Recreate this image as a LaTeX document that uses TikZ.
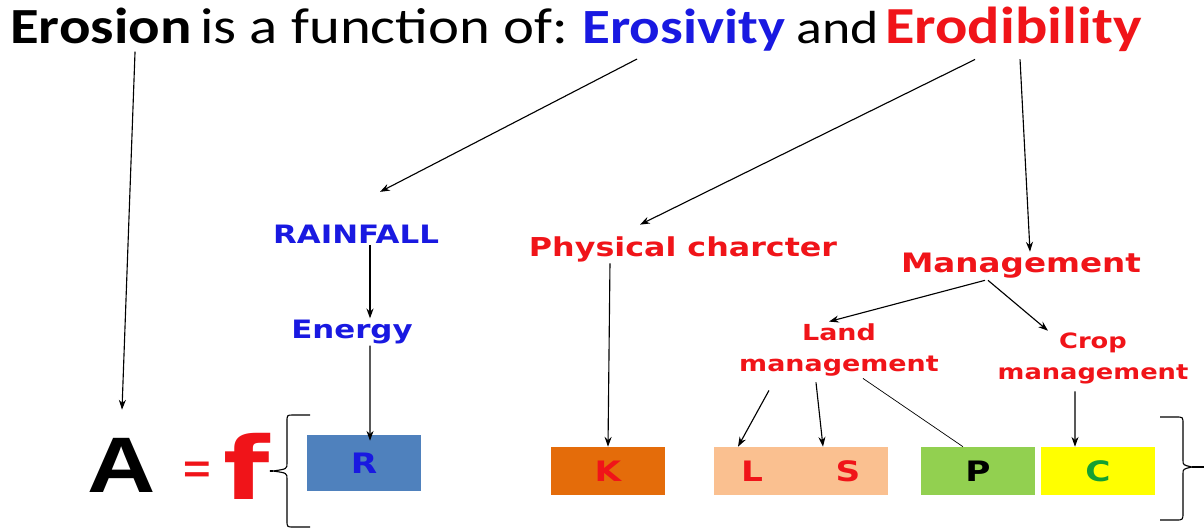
\documentclass[tikz,border=0pt]{standalone}
\usepackage{fontspec}
\setmainfont[FakeStretch=1.16]{Carlito}
\newfontfamily\lblfont[FakeStretch=1.22]{DejaVu Sans}
\newfontfamily\bigfont[FakeStretch=1.2]{Liberation Sans}
\usetikzlibrary{positioning,arrows.meta}
\definecolor{erosblue}{RGB}{25,25,225}
\definecolor{erodred}{RGB}{240,20,25}
\definecolor{rbox}{RGB}{79,129,189}
\definecolor{kbox}{RGB}{228,108,10}
\definecolor{lsbox}{RGB}{250,192,144}
\definecolor{pbox}{RGB}{146,208,80}
\definecolor{cbox}{RGB}{255,255,0}
\definecolor{cgreen}{RGB}{20,160,50}
\tikzset{
  titleword/.style={anchor=base west, inner sep=0pt, font=\fontsize{36}{40}\selectfont},
  lbl/.style={inner sep=1pt, align=center, font=\lblfont\bfseries\fontsize{18}{22}\selectfont},
  factor/.style={minimum width=2.85cm, minimum height=1.2cm, inner sep=0pt,
    font=\lblfont\bfseries\fontsize{20}{22}\selectfont},
  link/.style={->, >={Stealth[length=7pt,width=5pt]}, line width=0.8pt},
}
\begin{document}
\begin{tikzpicture}[x=0.025cm, y=-0.025cm]
    \useasboundingbox (0,0) rectangle (1204,527);

    % Title line
    \node[titleword] (erosion) at (10,43) {\bfseries Erosion};
    \node[titleword] (isafn) at (200,43) {is a function of:};
    \node[titleword, text=erosblue, font=\fontsize{35}{40}\selectfont] (erosivity) at (582,43) {\bfseries Erosivity};
    \node[titleword, font=\fontsize{33}{40}\selectfont] (andw) at (796,43) {and};
    \node[titleword, text=erodred, font=\fontsize{37}{40}\selectfont] (erodibility) at (885,43) {\bfseries Erodibility};

    % Erosivity branch
    \node[lbl, text=erosblue] (rainfall) at (356,234) {RAINFALL};
    \node[lbl, text=erosblue] (energy) at (352,332) {Energy};

    % Erodibility branch
    \node[lbl, text=erodred, font=\lblfont\bfseries\fontsize{18.5}{22}\selectfont] (physical) at (683,249) {Physical charcter};
    \node[lbl, text=erodred, font=\lblfont\bfseries\fontsize{19}{22}\selectfont] (management) at (1021,266) {Management};
    \node[lbl, text=erodred, font=\lblfont\bfseries\fontsize{15.7}{22.7}\selectfont] (landmgmt) at (839,350) {Land\\management};
    \node[lbl, text=erodred, font=\lblfont\bfseries\fontsize{15}{22}\selectfont] (cropmgmt) at (1093,358) {Crop\\management};

    % Equation
    \node[inner sep=0pt, font=\bigfont\bfseries\fontsize{56}{60}\selectfont] (A) at (122,465) {A};
    \node[inner sep=0pt, text=erodred, font=\bigfont\bfseries\fontsize{28}{30}\selectfont] (eq) at (197,472) {=};
    \node[inner sep=0pt, text=erodred, font=\lblfont\bfseries\fontsize{62}{66}\selectfont] (f) at (247,466) {f};

    % Factor boxes
    \node[factor, fill=rbox, text=erosblue, minimum height=1.4cm] (R) at (364,463) {R};
    \node[factor, fill=kbox, text=erodred] (K) at (608,471) {K};
    \node[factor, fill=lsbox, minimum width=4.35cm] (LS) at (801,471) {};
    \node[inner sep=0pt, text=erodred, font=\lblfont\bfseries\fontsize{20}{22}\selectfont] (L) at (752,471) {L};
    \node[inner sep=0pt, text=erodred, font=\lblfont\bfseries\fontsize{20}{22}\selectfont] (S) at (848,471) {S};
    \node[factor, fill=pbox, text=black] (P) at (978,471) {P};
    \node[factor, fill=cbox, text=cgreen] (C) at (1098,471) {C};

    % Braces
    \coordinate (lbtip) at (273,471);
    \draw[line width=0.8pt] (f.east |- lbtip) -- (lbtip);
    \draw[line width=0.8pt] (310,415) -- (293,415) .. controls (287,415) .. (287,422) -- (287,463)
        .. controls (287,469) .. (lbtip) .. controls (287,473) .. (287,479) -- (287,520)
        .. controls (287,527) .. (293,527) -- (310,527);
    \coordinate (rbtip) at (1192,467);
    \draw[line width=0.8pt] (1160,417) -- (1176,417) .. controls (1183,417) .. (1183,424) -- (1183,460)
        .. controls (1183,465) .. (rbtip) .. controls (1183,469) .. (1183,474) -- (1183,512)
        .. controls (1183,520) .. (1176,520) -- (1160,520);
    \draw[line width=0.8pt] (rbtip) -- (1204,467);

    % Connectors
    \draw[link] ([xshift=3.125cm, yshift=-0.2cm]erosion.south west) -- ([yshift=0.7cm]A.north);
    \draw[link] ([xshift=1.375cm, yshift=-0.2cm]erosivity.south west) -- ([xshift=0.6cm, yshift=0.78cm]rainfall.north);
    \draw[link] ([xshift=2.25cm, yshift=-0.2cm]erodibility.south west) -- ([xshift=-1.075cm, yshift=0.25cm]physical.north);
    \draw[link] ([xshift=3.375cm, yshift=-0.2cm]erodibility.south west) -- ([xshift=0.225cm]management.north);
    \draw[link] ([xshift=0.35cm]rainfall.south) -- ([xshift=0.35cm]rainfall.south |- energy.north);
    \draw[link] ([xshift=0.45cm]energy.south) -- ([xshift=0.15cm, yshift=-0.15cm]R.north);
    \draw[link] ([xshift=-1.825cm]physical.south) -- (K.north);
    \draw[link] ([xshift=-0.9cm]management.south) -- ([xshift=-0.25cm]landmgmt.north);
    \draw[link] ([xshift=-0.825cm]management.south) -- ([xshift=-1.125cm]cropmgmt.north);
    \draw[link] ([xshift=-1.75cm, yshift=-0.3cm]landmgmt.south) -- ([xshift=-1.575cm]LS.north);
    \draw[link] ([xshift=-0.575cm, yshift=-0.1cm]landmgmt.south) -- ([xshift=0.55cm]LS.north);
    \draw[line width=0.5pt] ([xshift=0.6cm]landmgmt.south) -- ([xshift=-0.375cm]P.north);
    \draw[link] ([xshift=-0.45cm, yshift=-0.15cm]cropmgmt.south) -- ([xshift=-0.575cm]C.north);
\end{tikzpicture}
\end{document}
